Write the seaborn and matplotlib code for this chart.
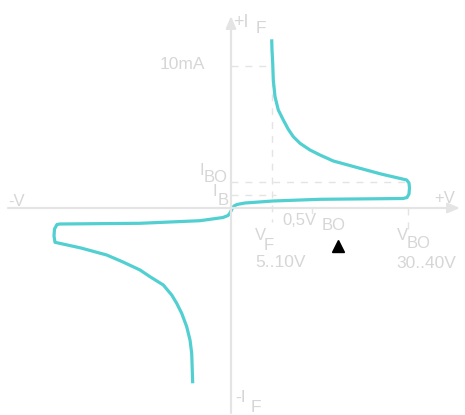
import numpy as np
import pandas as pd
import matplotlib
matplotlib.use("Agg")
import matplotlib.pyplot as plt
import seaborn as sns

# DIAC characteristic (units: px relative to the origin)
# lower branch, from the bottom up to the left knee
low_v = [-38.3, -38.8, -39.3, -41.0, -44.3, -49.3, -54.3, -59.3, -67.7, -81.0,
         -91.0, -108.0, -124.3, -150.0, -176.0, -177.0, -176.5, -174.0, -171.0]
low_i = [-175.3, -160.0, -145.3, -132.0, -118.7, -105.3, -95.3, -87.0, -77.0, -68.7,
         -62.0, -54.0, -47.0, -40.0, -34.3, -28.0, -21.0, -16.5, -16.0]
# blocking part through the origin
mid_v = [-91.0, -31.0, -8.0, -3.0, -1.0, 1.0, 3.0, 6.0, 14.0, 42.0, 89.0, 172.0]
mid_i = [-15.3, -12.7, -9.5, -7.5, -5.0, -1.0, 2.0, 3.5, 5.0, 7.0, 8.7, 9.5]
# right knee and upper branch
up_v = [176.0, 178.0, 178.5, 178.0, 175.7, 150.0, 129.0, 102.3, 89.0, 79.0, 69.0,
        62.3, 57.3, 52.3, 47.3, 44.0, 42.3, 41.7, 41.0, 40.7]
up_i = [10.5, 14.0, 20.0, 25.0, 28.0, 34.0, 39.7, 47.0, 53.0, 58.0, 64.7,
        71.3, 78.7, 88.0, 98.0, 111.3, 128.0, 145.0, 158.0, 168.7]

# reference levels
i_10ma = 142
i_bo = 26
i_b = 13
v_f = 41
v_05 = 81
v_bo = 177

curve_col = "#52cfd0"
grey_txt = "#d6d6d6"
grey_ax = "#e4e4e4"

sns.set_theme(style="white")
plt.rcParams['font.family'] = ['Liberation Sans', 'DejaVu Sans']

fig = plt.figure(figsize=(4.65, 4.15), dpi=100)
ax = fig.add_axes([0, 0, 1, 1])
ax.set_xlim(-231, 234)
ax.set_ylim(-207, 208)
ax.axis("off")

# axes with arrows
arr = dict(arrowstyle="-|>,head_length=0.6,head_width=0.25", color=grey_ax, lw=1.6,
           shrinkA=0, shrinkB=0)
ax.annotate("", xy=(229, 0), xytext=(-223, 0), arrowprops=arr)
ax.annotate("", xy=(0, 192), xytext=(0, -205), arrowprops=arr)

# dashed guides
dash = dict(color=grey_ax, lw=1.0, ls=(0, (5, 5)))
ax.plot([0, v_f], [i_10ma, i_10ma], **dash)
ax.plot([v_f, v_f], [i_10ma, -14], **dash)
ax.plot([0, v_bo], [i_bo, i_bo], **dash)
ax.plot([0, v_f + 4], [i_b, i_b], **dash)
ax.plot([v_bo, v_bo], [0, -24], **dash)
ax.plot([v_05, v_05], [0, -5], color=grey_ax, lw=1.0)

df = pd.DataFrame({"V": low_v + mid_v + up_v, "I": low_i + mid_i + up_i})
sns.lineplot(data=df, x="V", y="I", sort=False, estimator=None, color=curve_col,
             lw=2.3, ax=ax, solid_joinstyle="round", solid_capstyle="butt")

def txt(x, y, s, size=10, ha="left"):
    ax.text(x, y, s, fontsize=size, color=grey_txt, ha=ha, va="baseline")

txt(2, 181, "+I", 13)
txt(25, 175, "F", 12.5)
txt(-26, 139, "10mA", 12.5, ha="right")
txt(-32, 33, "I", 12)
txt(-27, 26, "BO", 12)
txt(-19, 12, "I", 12)
txt(-13, 3, "B", 12)
txt(-223, 2, "-V", 12)
txt(203, 5, "+V", 12)
txt(51, -17, "0,5V", 12)
txt(91, -22, "BO", 12)
txt(24, -32, "V", 12)
txt(33, -42, "F", 12)
txt(24, -59, "5..10V", 12.5)
txt(166, -32, "V", 12)
txt(176, -40, "BO", 12)
txt(165, -60, "30..40V", 12.5)
txt(4, -194, "-I", 12.5)
txt(20, -204, "F", 12.5)

ax.plot([106.5], [-38], marker="^", color="black", ms=9, ls="none")

fig.savefig("out.png", dpi=100)
